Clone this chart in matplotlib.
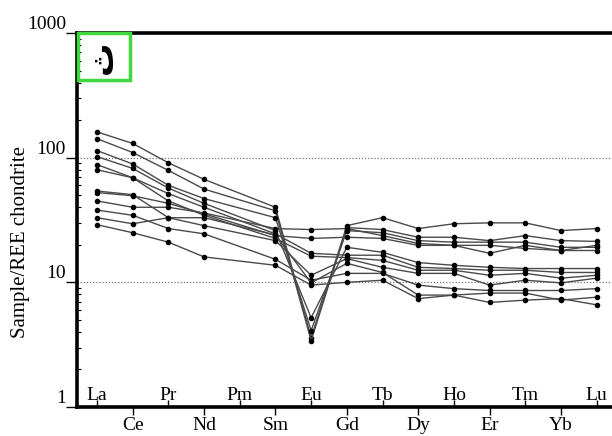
import matplotlib.pyplot as plt
from matplotlib.patches import Rectangle
from matplotlib.ticker import FixedLocator, NullFormatter

plt.rcParams['font.family'] = ['Liberation Serif', 'DejaVu Serif']

# element order along the x axis (Pm has no data)
elements = ['La', 'Ce', 'Pr', 'Nd', 'Pm', 'Sm', 'Eu', 'Gd',
            'Tb', 'Dy', 'Ho', 'Er', 'Tm', 'Yb', 'Lu']
ree = ['La', 'Ce', 'Pr', 'Nd', 'Sm', 'Eu', 'Gd',
       'Tb', 'Dy', 'Ho', 'Er', 'Tm', 'Yb', 'Lu']

# chondrite normalised values
s1 = [161, 130, 91, 67, 40, 3.6, 28.5, 33, 27, 29.5, 30, 30, 26, 27]
s2 = [142, 110, 79, 56, 37.5, 3.4, 27.5, 26.5, 23, 23, 21.6, 23.7, 21.6, 21.3]
s3 = [114, 89, 60, 47, 33, 4.1, 26, 25, 21.6, 21, 21, 21, 19.1, 19.1]
s4 = [45, 40, 40, 36, 27, 26.5, 27, 23.7, 20.5, 19.8, 17.1, 19.8, 18, 18]
s5 = [52.5, 49.5, 43, 35.5, 23.7, 22.5, 23, 22.5, 19.8, 19.8, 19.8, 18.7, 18, 19.8]
s6 = [102, 82, 57, 43, 26, 5.2, 19.1, 17.4, 14.4, 13.7, 13.2, 12.9, 12.9, 12.9]
s7 = [88, 69, 51.5, 40, 24.5, 17.1, 16.5, 16.5, 13.2, 12.9, 12.5, 12.5, 12, 12]
s8 = [80, 69, 45, 34.5, 22.5, 16.2, 15.8, 15, 12.5, 12.5, 11.4, 11.8, 10.8, 11.4]
s9 = [54, 50.5, 33, 28.5, 21.6, 11.4, 15.5, 13.2, 11.8, 11.8, 9.5, 10.4, 9.9, 10.8]
s10 = [38, 34.5, 27, 24.5, 15.3, 10.4, 11.8, 11.8, 9.5, 8.9, 8.6, 8.6, 8.6, 8.9]
s11 = [33, 29.5, 33, 33, 24, 9.9, 14.2, 12, 7.9, 7.9, 8.2, 8.2, 7.2, 7.6]
s12 = [29, 25, 21, 16, 13.7, 9.5, 10, 10.4, 7.4, 7.9, 6.9, 7.2, 7.4, 6.6]
samples = [s1, s2, s3, s4, s5, s6, s7, s8, s9, s10, s11, s12]

y_ticks = [1, 10, 100, 1000]
panel_label = 'ث'

fig = plt.figure(figsize=(6.12, 4.36), dpi=100)
ax = fig.add_axes([77 / 612, 29 / 436, 535 / 612, 374 / 436])

xpos = [elements.index(e) for e in ree]
for s in samples:
    ax.plot(xpos, s, '-', color='#4a4a4a', lw=1.0,
            marker='o', ms=3.0, mfc='black', mec='black', zorder=3)

ax.set_yscale('log')
ax.set_ylim(1, 1000)
ax.set_xlim(-0.56, 14.43)

# y axis
ax.yaxis.set_major_locator(FixedLocator(y_ticks))
ax.set_yticklabels([str(v) for v in y_ticks])
for lab in ax.get_yticklabels():
    lab.set_verticalalignment('bottom')
ax.yaxis.set_minor_formatter(NullFormatter())
ax.tick_params(axis='y', which='major', direction='out', length=8,
               width=1, pad=0, labelsize=14)
ax.tick_params(axis='y', which='minor', direction='in', length=3, width=0.8)
ax.grid(axis='y', which='major', linestyle=(0, (1, 1.5)), color='#777777', lw=0.9)
ax.set_ylabel('Sample/REE chondrite', fontsize=15)
ax.yaxis.set_label_coords(-0.088, 0.44)

# x axis: lower row as tick labels, upper row drawn inside the frame
lower = list(range(1, len(elements), 2))
upper = list(range(0, len(elements), 2))
ax.set_xticks(lower)
ax.set_xticklabels([elements[i] for i in lower], fontsize=14)
ax.tick_params(axis='x', which='major', direction='out', length=6, width=1, pad=1)
ax.set_xticks(upper, minor=True)
ax.tick_params(axis='x', which='minor', direction='in', length=5, width=1)
for i in upper:
    ax.text(i, 0.018, elements[i], transform=ax.get_xaxis_transform(),
            ha='center', va='baseline', fontsize=14)

for side in ['left', 'top', 'bottom']:
    ax.spines[side].set_linewidth(2.6)
    ax.spines[side].set_color('black')
ax.spines['right'].set_visible(False)

# panel letter in a green box
ax.add_patch(Rectangle((0.002, 0.874), 0.097, 0.126, transform=ax.transAxes,
                       fill=False, edgecolor='#3fd83f', lw=2.5, clip_on=False, zorder=5))
ax.text(0.048, 0.934, panel_label, transform=ax.transAxes, rotation=90,
        ha='center', va='center', fontsize=24, family=['DejaVu Sans'],
        fontweight='bold', zorder=6)

fig.savefig('out.png', dpi=100)
